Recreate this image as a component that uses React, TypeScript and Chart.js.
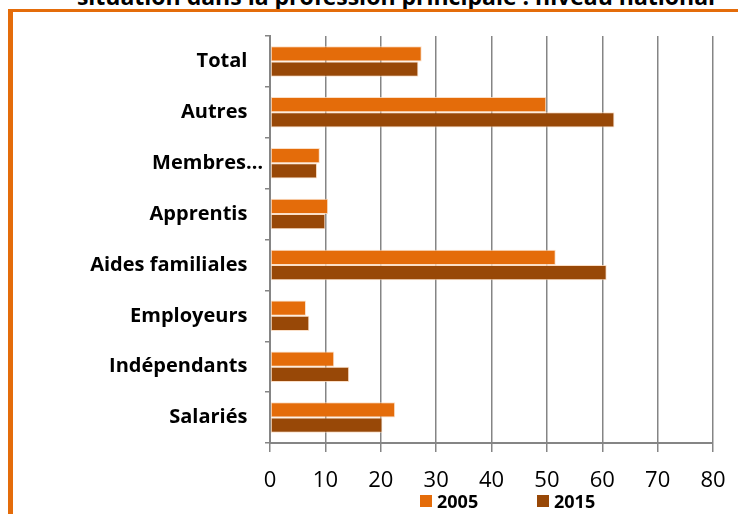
import React, { useEffect, useRef } from "react";
import { Chart, registerables } from "chart.js";

Chart.register(...registerables);

const titleText = "situation dans la profession principale : niveau national";
const categories = ["Total", "Autres", "Membres…", "Apprentis", "Aides familiales", "Employeurs", "Indépendants", "Salariés"];
const seriesNames = ["2005", "2015"];
const values2005 = [27.4, 49.9, 9.0, 10.5, 51.6, 6.5, 11.6, 22.6];
const values2015 = [26.8, 62.2, 8.5, 10.0, 60.8, 7.1, 14.3, 20.3];
const xMin = 0;
const xMax = 80;
const xStep = 10;

const C2005 = "#E46C0A";
const C2015 = "#984807";
const GRID = "#858585";
const FONT = "'Open Sans', Lato, sans-serif";

export default function App() {
  const ref = useRef<HTMLCanvasElement | null>(null);

  useEffect(() => {
    if (!ref.current) return;
    const chart = new Chart(ref.current, {
      type: "bar",
      data: {
        labels: categories,
        datasets: [
          { label: seriesNames[0], data: values2005, backgroundColor: C2005, borderColor: "rgba(250,215,185,0.8)", borderWidth: 1, borderSkipped: false },
          { label: seriesNames[1], data: values2015, backgroundColor: C2015, borderColor: "rgba(250,215,185,0.8)", borderWidth: 1, borderSkipped: false },
        ],
      },
      options: {
        indexAxis: "y",
        responsive: false,
        animation: false,
        events: [],
        layout: { padding: { top: 36, left: 0, right: 25, bottom: 0 } },
        datasets: { bar: { categoryPercentage: 0.6, barPercentage: 1 } },
        plugins: { legend: { display: false }, tooltip: { enabled: false }, title: { display: false } },
        scales: {
          x: {
            min: xMin,
            max: xMax,
            ticks: { stepSize: xStep, color: "#000", font: { family: FONT, size: 22 }, padding: 16 },
            grid: { color: GRID, lineWidth: 1.5, tickLength: 9, drawTicks: true },
            border: { display: true, color: GRID, width: 2 },
            afterFit: (s: any) => { s.height = 71; s.paddingLeft = 0; s.paddingRight = 0; },
          },
          y: {
            ticks: {
              color: "#000",
              font: { family: FONT, size: 20, weight: "bold" },
              padding: 2,
              callback: function (this: any, v: any) {
                const l = String(this.getLabelForValue(v));
                return l.endsWith("…") ? l : l + "   ";
              },
            },
            grid: { display: true, drawOnChartArea: false, drawTicks: true, tickLength: 5, color: GRID, lineWidth: 1.5 },
            border: { display: true, color: GRID, width: 2 },
            afterFit: (s: any) => { s.width = 270; s.paddingTop = 0; s.paddingBottom = 0; },
          },
        },
      },
    });
    return () => chart.destroy();
  }, []);

  const legendItem = (name: string, color: string, left: number) => (
    <div style={{ position: "absolute", left, top: 492, height: 18, display: "flex", alignItems: "center" }}>
      <span style={{ display: "inline-block", width: 12, height: 12, background: color, marginRight: 5 }} />
      <span style={{ fontFamily: FONT, fontWeight: "bold", fontSize: 18, lineHeight: "18px", color: "#000" }}>{name}</span>
    </div>
  );

  return (
    <div style={{ position: "fixed", left: 0, top: 0, width: 738, height: 514, overflow: "hidden", background: "#fff" }}>
      <div style={{ position: "absolute", left: 0, width: 792, top: -15, textAlign: "center", fontFamily: FONT, fontWeight: "bold", fontSize: 23, lineHeight: "23px", whiteSpace: "nowrap", color: "#000" }}>
        {titleText}
      </div>
      <div style={{ position: "absolute", left: 8, top: 9, width: 800, height: 600, borderLeft: `5px solid ${C2005}`, borderTop: `3px solid ${C2005}`, boxSizing: "border-box" }} />
      <canvas ref={ref} width={738} height={514} style={{ position: "absolute", left: 0, top: 0, width: 738, height: 514 }} />
      {legendItem(seriesNames[0], C2005, 420)}
      {legendItem(seriesNames[1], C2015, 537)}
    </div>
  );
}
